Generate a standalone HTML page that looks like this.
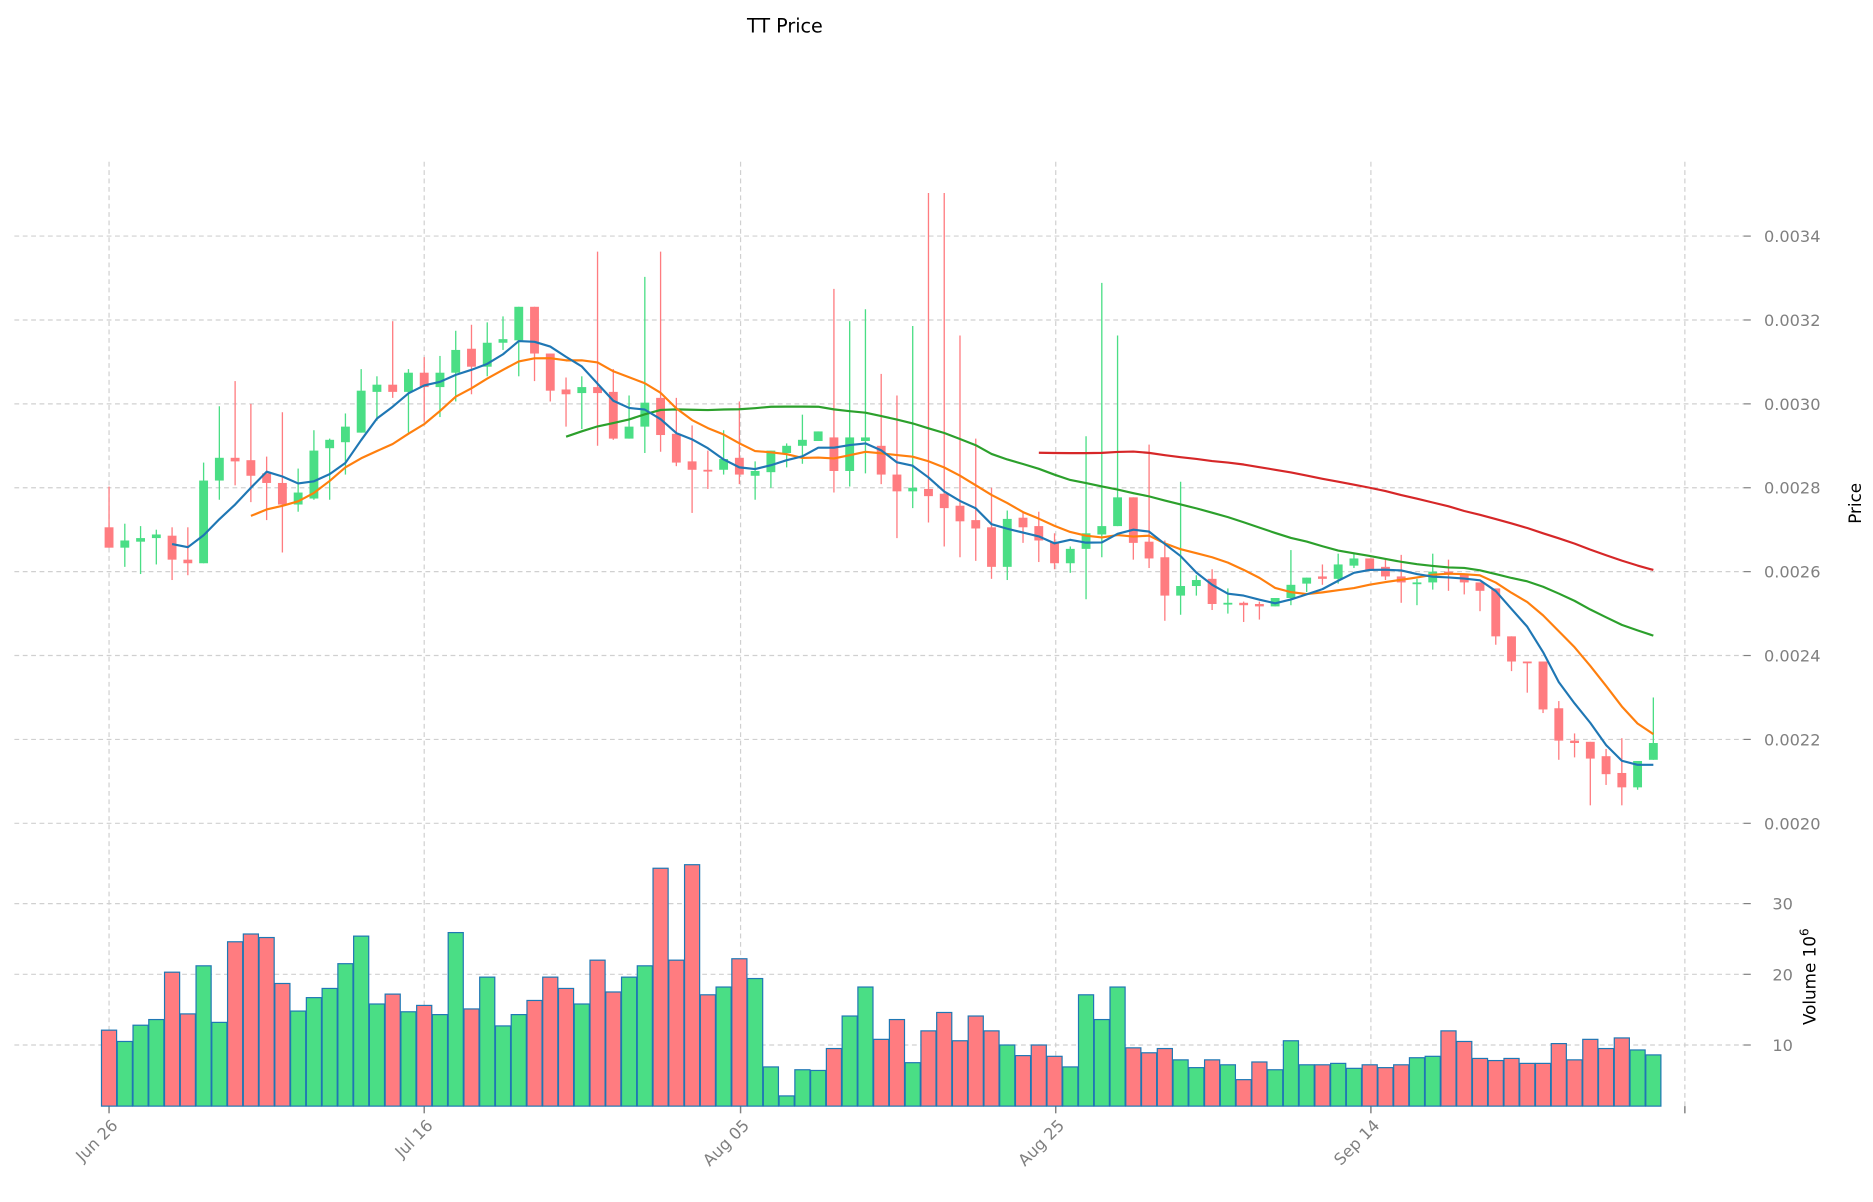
<!DOCTYPE html>
<html><head><meta charset="utf-8"><style>
html,body{margin:0;padding:0;background:#fff;}
svg{display:block;}
text{font-family:"DejaVu Sans","Liberation Sans",sans-serif;}
</style></head><body>
<svg id="s" width="1873" height="1202" viewBox="0 0 1563 1003" preserveAspectRatio="none" xmlns="http://www.w3.org/2000/svg">
<rect width="1563" height="1003" fill="#fff"/>
<g id="grid"></g>
<g id="vol"></g>
<g id="cand"></g>
<g id="ma"></g>
<text x="655" y="27" font-size="16" text-anchor="middle" fill="#000">TT Price</text>
<g font-size="13.5" fill="#808080">
<text x="1472" y="202">0.0034</text>
<text x="1472" y="272">0.0032</text>
<text x="1472" y="342">0.0030</text>
<text x="1472" y="412">0.0028</text>
<text x="1472" y="482">0.0026</text>
<text x="1472" y="552">0.0024</text>
<text x="1472" y="622">0.0022</text>
<text x="1472" y="692">0.0020</text>
<text x="1479" y="759">30</text>
<text x="1479" y="818">20</text>
<text x="1479" y="877">10</text>
</g>
<text transform="translate(1553,420) rotate(-90)" font-size="14" text-anchor="middle" fill="#000">Price</text>
<text transform="translate(1515,815) rotate(-90)" font-size="14" text-anchor="middle" fill="#000">Volume  10<tspan dy="-6" font-size="10">6</tspan></text>
<g font-size="13.5" fill="#808080" text-anchor="end">
<text transform="translate(99,940) rotate(-45)">Jun 26</text>
<text transform="translate(362,940) rotate(-45)">Jul 16</text>
<text transform="translate(626,940) rotate(-45)">Aug 05</text>
<text transform="translate(889,940) rotate(-45)">Aug 25</text>
<text transform="translate(1152,940) rotate(-45)">Sep 14</text>
</g>
</svg>
<script>
var NS="http://www.w3.org/2000/svg";
function el(p,t,a){var e=document.createElementNS(NS,t);for(var k in a)e.setAttribute(k,a[k]);p.appendChild(e);return e;}
var D=[[440,457,406,457],[457,451,437,473],[452,449,439,479],[449,446,442,471],[447,467,440,484],[467,470,440,480],[470,401,386,470],[401,382,339,417],[382,385,318,405],[384,397,337,419],[395,403,381,434],[403,421,344,461],[421,411,391,427],[416,376,359,417],[374,367,366,417],[369,356,345,396],[361,326,308,361],[327,321,314,351],[321,327,268,332],[327,311,308,361],[311,323,298,352],[323,311,297,348],[311,292,276,335],[291,306,271,329],[306,286,269,314],[286,283,264,292],[284,256,256,314],[256,295,256,318],[295,326,295,335],[325,329,315,356],[328,323,314,358],[323,328,210,372],[327,366,308,367],[366,356,330,366],[356,336,231,378],[332,363,210,377],[362,386,332,389],[385,392,355,428],[392,393,376,408],[392,383,359,396],[382,396,335,404],[397,393,385,417],[394,376,376,407],[378,372,370,390],[372,367,346,387],[368,360,360,368],[365,393,241,411],[393,365,268,406],[368,365,258,395],[372,396,312,404],[396,410,330,449],[410,407,272,424],[408,414,161,436],[412,424,161,456],[422,435,280,465],[434,441,366,468],[440,473,407,483],[473,433,426,484],[432,440,428,453],[439,451,427,469],[452,470,445,475],[470,458,456,478],[458,445,364,500],[446,439,236,465],[439,415,280,439],[415,453,415,467],[452,466,371,474],[465,497,451,518],[497,489,402,513],[489,484,480,497],[483,504,475,509],[504,503,491,512],[503,505,502,519],[504,506,502,517],[506,499,499,506],[499,488,459,505],[487,482,482,494],[481,483,471,488],[483,471,462,487],[472,466,462,474],[466,476,466,476],[473,481,466,484],[481,486,463,503],[487,486,483,505],[486,477,462,492],[477,479,467,493],[479,486,479,496],[486,493,486,510],[491,531,491,538],[531,552,531,560],[552,553,552,578],[552,592,552,595],[591,618,585,634],[618,620,612,632],[619,633,619,672],[631,646,625,655],[645,657,616,672],[657,635,635,659],[634,620,582,634]];
var V=[12.1,10.5,12.8,13.6,20.3,14.4,21.2,13.2,24.6,25.7,25.2,18.7,14.8,16.7,18.0,21.5,25.4,15.8,17.2,14.7,15.6,14.3,25.9,15.1,19.6,12.7,14.3,16.3,19.6,18.0,15.8,22.0,17.5,19.6,21.2,35.0,22.0,35.5,17.1,18.2,22.2,19.4,6.9,2.8,6.5,6.4,9.5,14.1,18.2,10.8,13.6,7.5,12.0,14.6,10.6,14.1,12.0,10.0,8.5,10.0,8.4,6.9,17.1,13.6,18.2,9.6,8.9,9.5,7.9,6.8,7.9,7.2,5.1,7.6,6.5,10.6,7.2,7.2,7.4,6.7,7.2,6.8,7.2,8.2,8.4,12.0,10.5,8.1,7.8,8.1,7.4,7.4,10.2,7.9,10.8,9.5,11.0,9.3,8.6];
var RED="#ff7c80",GRN="#4ade85";
function X(i){return 91+13.15*i;}
var g=document.getElementById("grid");
var gs={stroke:"#d0d0d0","stroke-width":"1","stroke-dasharray":"4,3",fill:"none"};
[197,267,337,407,477,547,617,687,754,813,872].forEach(function(y){
 var a=Object.assign({x1:12,x2:1455,y1:y,y2:y},gs);el(g,"line",a);
 el(g,"line",{x1:1455,x2:1461,y1:y,y2:y,stroke:"#808080","stroke-width":"1"});
});
[91,354,618,881,1144,1406].forEach(function(x){
 var a=Object.assign({x1:x,x2:x,y1:135,y2:923},gs);el(g,"line",a);
 el(g,"line",{x1:x,x2:x,y1:923,y2:929,stroke:"#808080","stroke-width":"1.2"});
});
var vg=document.getElementById("vol");
V.forEach(function(v,i){var d=D[i];var c=d[1]<d[0]?GRN:RED;var top=872-(v-10)*5.9;
 el(vg,"rect",{x:X(i)-6.3,y:top,width:12.6,height:923-top,fill:c,stroke:"#1f77b4","stroke-width":"1"});});
var cg=document.getElementById("cand");
D.forEach(function(d,i){var c=d[1]<d[0]?GRN:RED;var x=X(i);
 el(cg,"line",{x1:x,x2:x,y1:d[2],y2:d[3],stroke:c,"stroke-width":"1.1"});
 var t=Math.min(d[0],d[1]),h=Math.max(Math.abs(d[0]-d[1]),1.5);
 el(cg,"rect",{x:x-3.7,y:t,width:7.4,height:h,fill:c});});
var mg=document.getElementById("ma");
function ma(n,col,w){var pts=[];for(var i=n-1;i<D.length;i++){var s=0;for(var j=i-n+1;j<=i;j++)s+=D[j][1];pts.push(X(i).toFixed(1)+","+(s/n).toFixed(1));}
 el(mg,"polyline",{points:pts.join(" "),fill:"none",stroke:col,"stroke-width":w,"stroke-linejoin":"round"});}
ma(60,"#d62728",1.8);ma(30,"#2ca02c",1.8);ma(10,"#ff7f0e",1.8);ma(5,"#1f77b4",1.8);
</script>
</body></html>
